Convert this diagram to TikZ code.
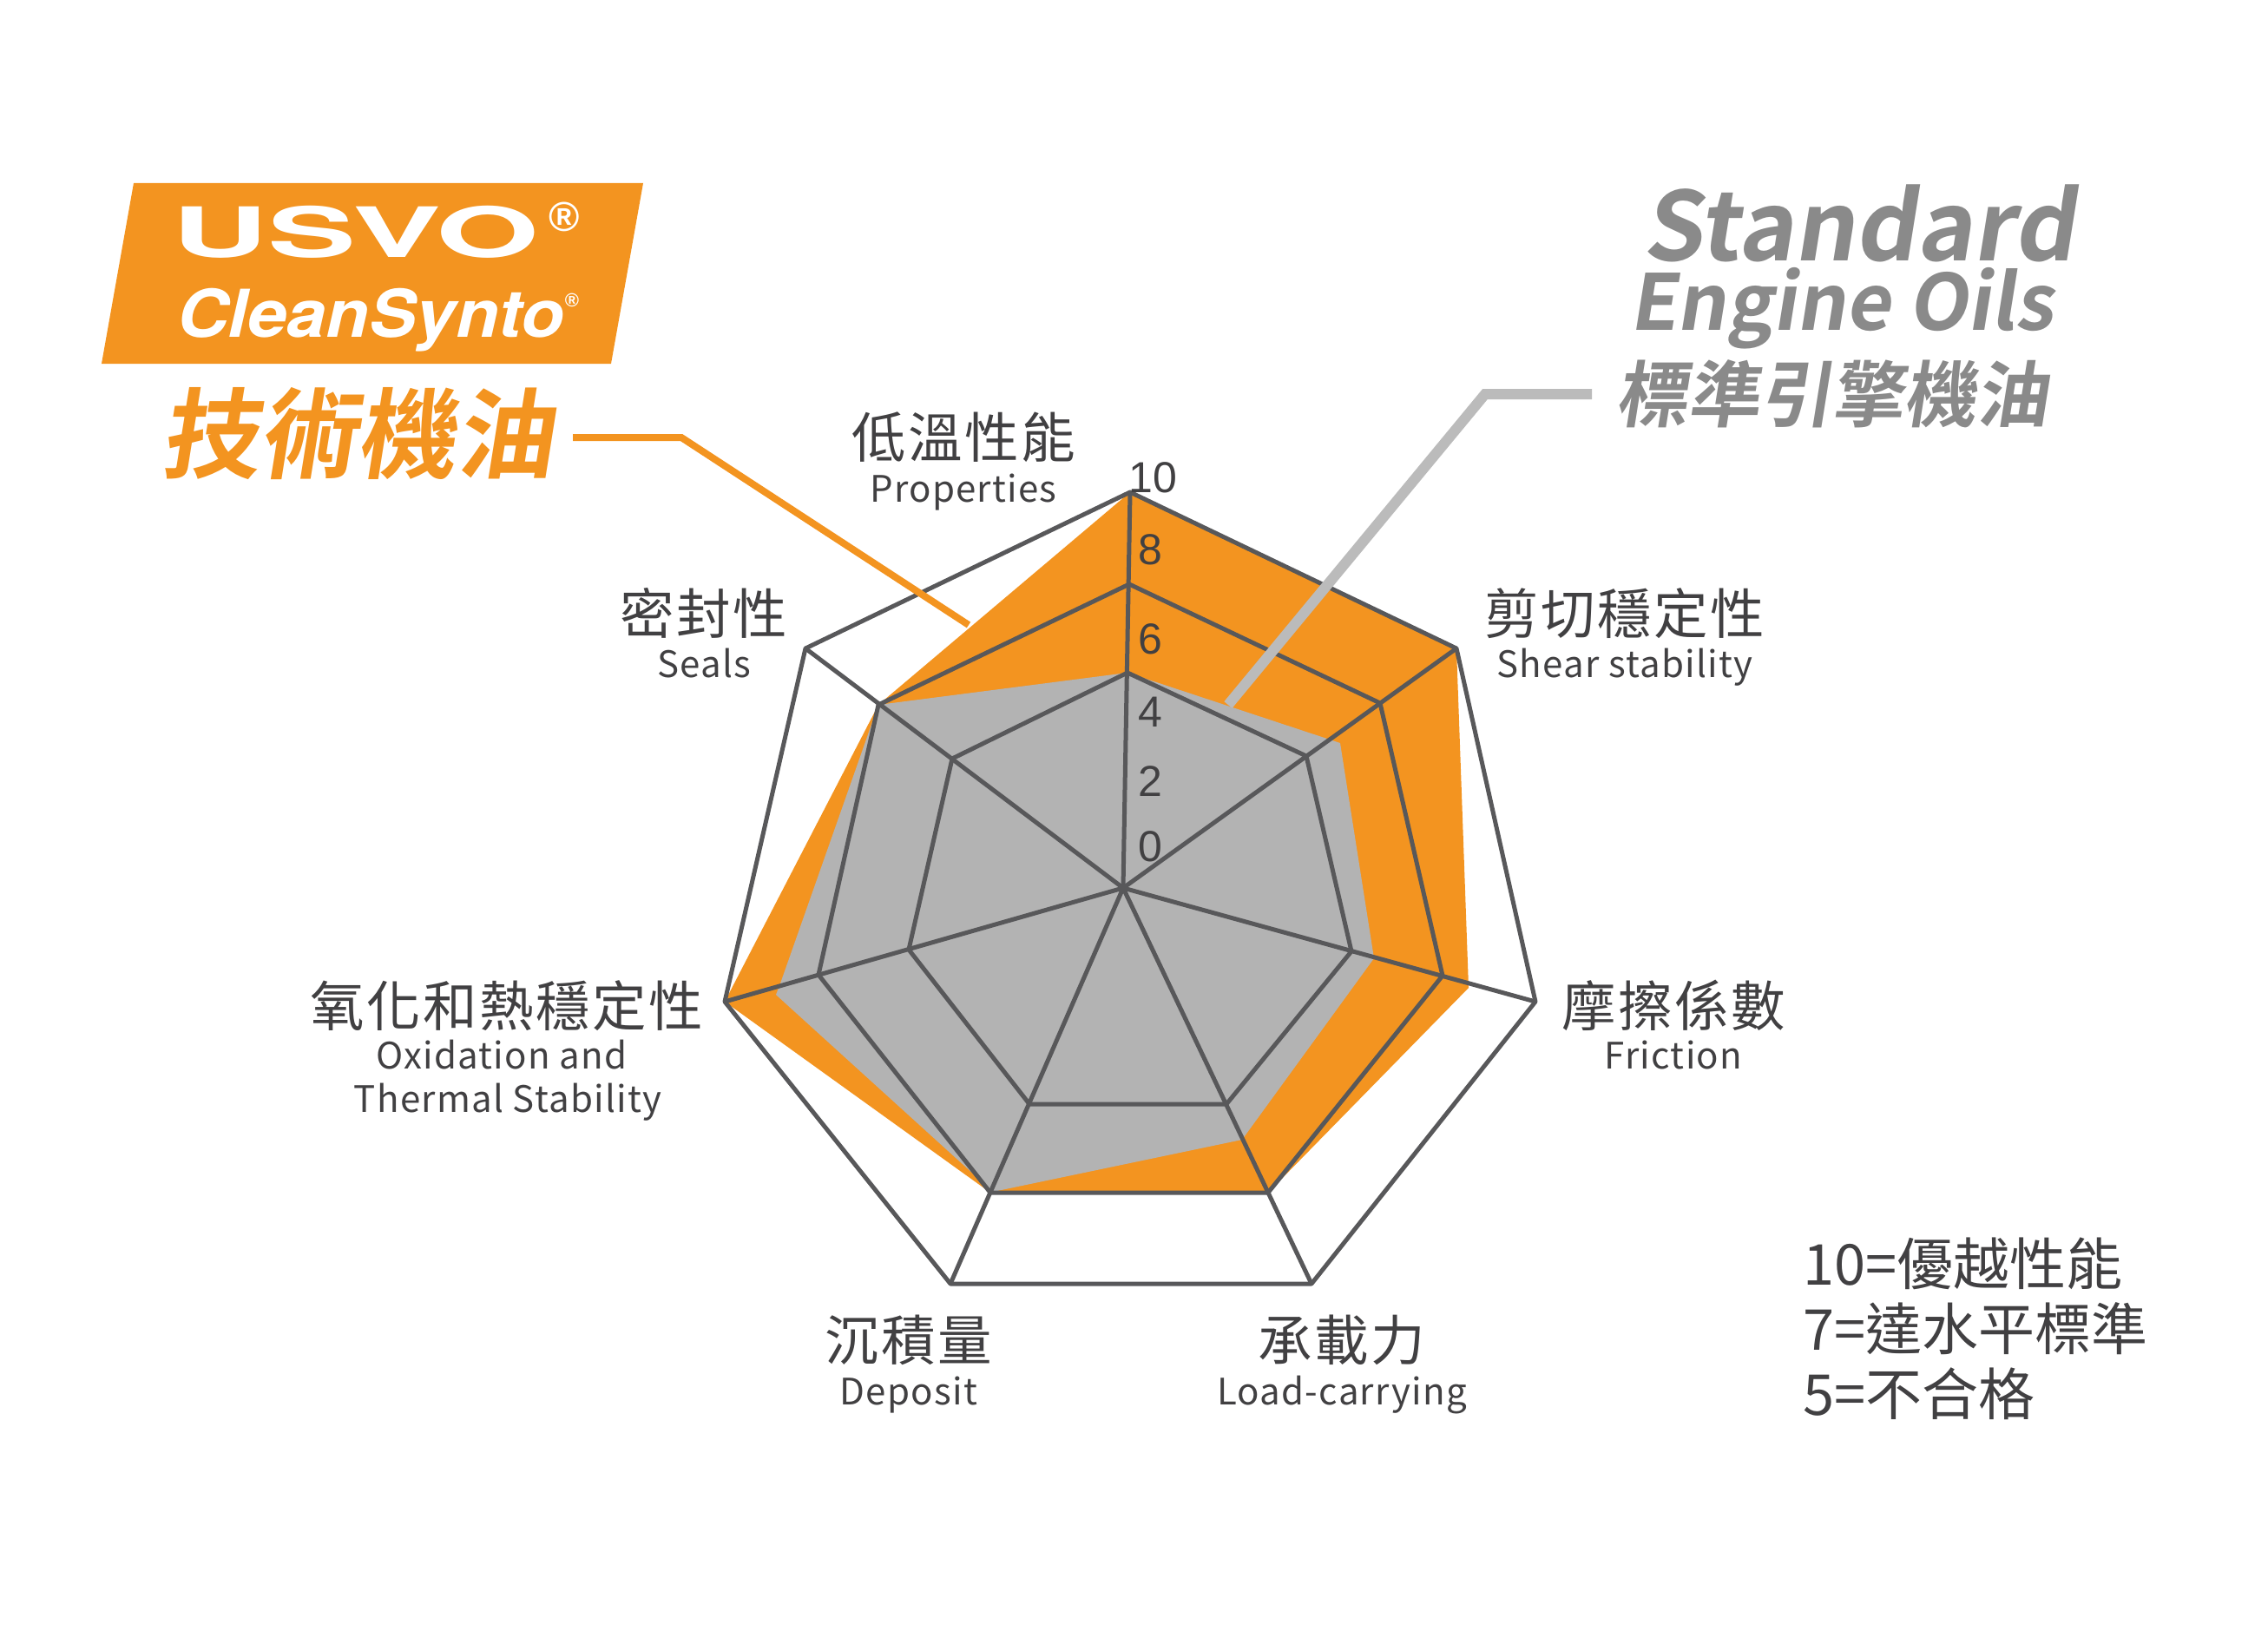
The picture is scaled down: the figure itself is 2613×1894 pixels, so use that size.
\documentclass[tikz,border=0pt]{standalone}
\usepackage{fontspec}
\usetikzlibrary{positioning}
\setmainfont{Noto Sans CJK TC}
\newfontfamily\zhfont[LetterSpace=4]{Noto Sans CJK TC}
\newfontfamily\enfont[LetterSpace=3]{Noto Sans CJK TC}
\newfontfamily\slantfont[FakeSlant=0.16,BoldFont={Noto Sans CJK TC Bold}]{Noto Sans CJK TC}
\newfontfamily\numfont{Liberation Sans}
\newfontfamily\logofont{TeX Gyre Heros}
\definecolor{oilorange}{HTML}{F39420}
\definecolor{oilgray}{HTML}{B3B3B3}
\definecolor{leadgray}{HTML}{BBBBBB}
\definecolor{titlegray}{HTML}{8A8A8A}
\definecolor{gridline}{HTML}{58585A}
\definecolor{inkdark}{HTML}{414042}

\begin{document}
\begin{tikzpicture}[x=1pt,y=-1pt,
    ring/.style={draw=gridline,line width=5pt,line join=round},
    spoke/.style={draw=gridline,line width=5pt},
    leader/.style={line width=#1,line join=miter},
    zhlabel/.style={anchor=base,inner sep=0pt,text=inkdark,font=\zhfont\fontsize{62.5}{62.5}\selectfont},
    enlabel/.style={anchor=base,inner sep=0pt,text=inkdark,font=\enfont\fontsize{42}{42}\selectfont},
    scalenum/.style={anchor=base,inner sep=0pt,text=inkdark,font=\numfont\fontsize{50}{50}\selectfont},
    brandzh/.style={anchor=base west,inner sep=0pt,font=\slantfont\bfseries\fontsize{113}{113}\selectfont}]
  \useasboundingbox (0,0) rectangle (2613,1894);

  % Axes, outer ring first
  \coordinate (hub) at (1294,1023);
  \foreach \i/\x/\y in {0/1302/567,1/1678/747,2/1769/1154,3/1511/1479,4/1095/1479,5/835/1154,6/928/747} {
    \coordinate (o\i) at (\x,\y);
  }
  \foreach \i/\x/\y in {0/1301/673,1/1590/810,2/1662/1124,3/1461/1374,4/1141/1374,5/943/1123,6/1012/812} {
    \coordinate (m\i) at (\x,\y);
  }
  \foreach \i/\x/\y in {0/1299/775,1/1505/871,2/1557/1096,3/1413/1272,4/1186/1272,5/1047/1094,6/1097/874} {
    \coordinate (n\i) at (\x,\y);
  }

  % Filled areas
  \fill[oilorange] (o0) -- (o1) -- (1692,1138) -- (m3) -- (m4) -- (o5) -- (m6) -- cycle;
  \fill[oilgray] (n0) -- (1544,856) -- (1583,1104) -- (1431,1313) -- (1144,1373) -- (894,1146) -- (899,1133) -- (m6) -- cycle;

  % Grid
  \foreach \r in {o,m,n} {
    \draw[ring] (\r0) -- (\r1) -- (\r2) -- (\r3) -- (\r4) -- (\r5) -- (\r6) -- cycle;
  }
  \foreach \i in {0,...,6} {
    \draw[spoke] (hub) -- (o\i);
  }

  % Scale
  \foreach \v/\x/\y in {10/1328/567,8/1325/650,6/1325/753,4/1325/837,2/1325/917,0/1325/992} {
    \node[scalenum] (num\v) at (\x,\y) {\v};
  }

  % Axis labels
  \node[zhlabel] (zhlow) at (1110,527) {低溫性能};
  \node[enlabel] (enlow) at (1110,578) {Properties};
  \node[zhlabel] (zhseal) at (811,730) {密封性};
  \node[enlabel] (enseal) at (811,780) {Seals};
  \node[zhlabel] (zhshear) at (1872,730) {剪切穩定性};
  \node[enlabel] (enshear) at (1872,780) {Shear stability};
  \node[zhlabel] (zhfric) at (1928,1182) {摩擦係數};
  \node[enlabel] (enfric) at (1928,1231) {Friction};
  \node[zhlabel] (zhload) at (1546,1567) {承載力};
  \node[enlabel] (enload) at (1546,1618) {Load-carrying};
  \node[zhlabel] (zhdepo) at (1047,1567) {沉積量};
  \node[enlabel] (endepo) at (1047,1618) {Deposit};
  \node[zhlabel] (zhoxid) at (584,1182) {氧化和熱穩定性};
  \node[enlabel] (enoxid) at (578,1231) {Oxidation and};
  \node[enlabel] (entherm) at (585,1281) {Thermal Stability};

  % Legend
  \node[inner sep=0pt,anchor=base west,align=left,text=inkdark,
        font=\fontsize{65}{75}\selectfont] (legend) at (2077,1630) {10=優越性能\\7=達水平標準\\5=不合格};

  % Brand block
  \fill[oilorange] (154,211) coordinate (logoa) -- (741,211) -- (704,419) -- (117,419) -- cycle;
  \node[anchor=base west,inner sep=0pt,text=white,xscale=1.91,transform shape,
        font=\logofont\bfseries\fontsize{80}{80}\selectfont] (usvo) at (198,297) {USVO};
  \node[inner sep=0pt,text=white,font=\numfont\bfseries\fontsize{48}{48}\selectfont] (usvoreg) at (650,250) {®};
  \node[anchor=base west,inner sep=0pt,text=white,xscale=1.07,transform shape,
        font=\logofont\bfseries\itshape\fontsize{76}{76}\selectfont] (synto) at (204,388) {CleanSynto};
  \node[inner sep=0pt,text=white,font=\numfont\bfseries\fontsize{22}{22}\selectfont] (syntoreg) at (659,346) {®};
  \node[brandzh,text=oilorange] (brand) at (185,542) {技術機油};

  % Standard oils title
  \node[anchor=base west,inner sep=0pt,text=titlegray,
        font=\slantfont\bfseries\fontsize{110}{110}\selectfont] (titlea) at (1892,301) {Standard};
  \node[anchor=base west,inner sep=0pt,text=titlegray,
        font=\slantfont\bfseries\fontsize{89}{89}\selectfont] (titleb) at (1877,380) {Engine Oils};
  \node[anchor=base west,inner sep=0pt,text=titlegray,
        font=\slantfont\bfseries\fontsize{83}{83}\selectfont] (titlec) at (1861,485) {標準引擎機油};

  % Leaders
  \coordinate (brandend) at (1116,720);
  \coordinate (stdend) at (1415,812);
  \draw[leader=8pt,oilorange] (660,504) -- (785,504) -- (brandend);
  \draw[leader=12pt,leadgray] (1834,454) -- (1711,454) -- (stdend);
\end{tikzpicture}
\end{document}
